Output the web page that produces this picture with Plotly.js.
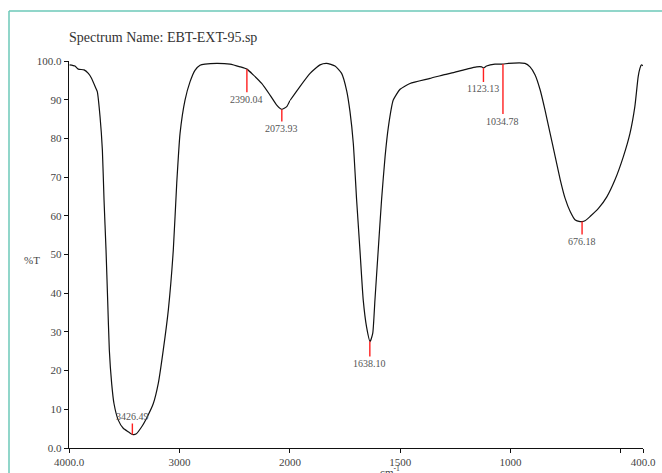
<!DOCTYPE html>
<html>
<head>
<meta charset="utf-8">
<script src="https://cdn.plot.ly/plotly-3.0.1.min.js"></script>
<style>html,body{margin:0;padding:0;background:#fff}#chart{width:662px;height:473px}</style>
</head>
<body>
<div id="chart"></div>
<script>
// Spectrum data (wavenumber cm-1, %T)
const wavenumber = [3995,3946,3916,3864,3825,3795,3756,3744,3719,3698,3683,3665,3650,3635,3614,3593,3554,3509,3463,3426,3394,3342,3291,3237,3192,3147,3101,3056,3025,2995,2950,2905,2860,2814,2769,2663,2543,2452,2390,2332,2256,2181,2120,2074,2030,2000,1955,1909,1864,1834,1796,1766,1743,1728,1713,1698,1683,1668,1653,1637,1625,1615,1600,1585,1569,1554,1532,1501,1456,1365,1300,1259,1199,1154,1131,1123,1109,1071,1035,1010,935,912,889,866,844,821,798,775,753,730,707,685,676,663,640,602,564,527,489,459,437,422,414,407,400];
const transmittance = [99.0,98.7,97.9,97.7,96.8,95.5,92.9,92.1,85.6,77.0,64.1,51.2,38.2,25.3,16.7,11.5,7.2,5.1,4.2,3.5,3.6,5.5,8.1,11.5,16.7,25.3,35.7,51.2,68.4,81.3,89.9,94.6,97.6,98.9,99.2,99.4,99.2,98.5,97.9,96.4,94.2,91.2,88.6,87.5,88.2,89.8,93.4,96.8,99.0,99.4,98.7,96.8,92.3,86.9,78.7,64.1,51.2,38.2,31.3,27.5,29.6,38.2,51.2,64.1,75.3,83.0,89.9,92.7,94.2,95.5,96.5,97.0,97.9,98.5,98.5,98.2,98.7,99.2,99.2,99.4,99.4,98.5,96.4,92.5,87.3,81.3,75.3,69.3,64.5,61.1,58.9,58.5,58.5,58.7,59.8,61.9,64.9,69.3,75.3,81.3,88.2,95.9,98.1,99.0,98.8];

// Peak picks
const peakWn = [3426.49, 2390.04, 2073.93, 1638.10, 1123.13, 1034.78, 676.18];
const peakT = [3.5, 97.9, 87.5, 27.5, 98.2, 99.2, 58.5];
const peakLabels = ["3426.49", "2390.04", "2073.93", "1638.10", "1123.13", "1034.78", "676.18"];

// Tick labels
const yTickVals = [0,10,20,30,40,50,60,70,80,90,100];
const yTickText = ["0.0","10","20","30","40","50","60","70","80","90","100.0"];
const xHighTickVals = [4000, 3000];
const xHighTickText = ["4000.0", "3000"];
const xLowTickVals = [2000, 1500, 1000, 400];
const xLowTickText = ["2000", "1500", "1000", "400.0"];
const xMinorTickVals = [500];

// styles (label offsets in px)
const labelOffsets = [-18, 30, 19, 22, 21, 57, 20];

const hiX = [], hiY = [], loX = [], loY = [];
wavenumber.forEach((w, i) => {
  if (w >= 2000) { hiX.push(w); hiY.push(transmittance[i]); }
  if (w <= 2000) { loX.push(w); loY.push(transmittance[i]); }
});

const lineStyle = {color: '#111', width: 1.2, shape: 'spline', smoothing: 0.5};
const traces = [
  {x: hiX, y: hiY, xaxis: 'x', yaxis: 'y', mode: 'lines', line: lineStyle, hoverinfo: 'skip'},
  {x: loX, y: loY, xaxis: 'x2', yaxis: 'y', mode: 'lines', line: lineStyle, hoverinfo: 'skip'}
];

const serif = 'Liberation Serif, Times New Roman, serif';
const tickFont = {family: serif, size: 11, color: '#444'};
const split = 0.385;

const annotations = peakWn.map((w, i) => ({
  x: w, y: peakT[i], xref: w >= 2000 ? 'x' : 'x2', yref: 'y',
  text: peakLabels[i], showarrow: true, arrowhead: 0, arrowwidth: 1.4,
  arrowcolor: '#ff2020', ax: 0, ay: labelOffsets[i], standoff: 0,
  font: {family: serif, size: 10, color: '#555'}, borderpad: 1
}));
annotations.push({
  text: '%T', xref: 'paper', yref: 'paper', x: -0.064, y: 0.486,
  showarrow: false, xanchor: 'center', yanchor: 'middle',
  font: {family: serif, size: 11, color: '#444'}
});
annotations.push({
  text: 'cm<sup>-1</sup>', xref: 'paper', yref: 'paper', x: 0.56, y: -0.036,
  showarrow: false, xanchor: 'center', yanchor: 'top',
  font: {family: serif, size: 11, color: '#444'}
});

const axisCommon = {
  showline: true, linecolor: '#111', linewidth: 1.2, ticks: 'outside', ticklen: 4,
  tickcolor: '#111', tickwidth: 1, showgrid: false, zeroline: false,
  tickfont: tickFont, tickmode: 'array', anchor: 'y', fixedrange: true
};

const layout = {
  width: 662, height: 473,
  margin: {l: 69, r: 19, t: 61, b: 25},
  paper_bgcolor: '#fff', plot_bgcolor: '#fff',
  showlegend: false,
  title: {text: 'Spectrum Name: EBT-EXT-95.sp', x: 69/662, xref: 'container', xanchor: 'left',
          y: 1 - 37/473, yref: 'container', yanchor: 'middle',
          font: {family: serif, size: 14, color: '#333'}},
  xaxis: Object.assign({}, axisCommon, {domain: [0, split], range: [4000, 2000],
          tickvals: xHighTickVals, ticktext: xHighTickText}),
  xaxis2: Object.assign({}, axisCommon, {domain: [split, 1], range: [2000, 400],
          tickvals: xLowTickVals, ticktext: xLowTickText,
          minor: {tickmode: 'array', tickvals: xMinorTickVals, ticks: 'outside', ticklen: 4, tickcolor: '#111', showgrid: false}}),
  yaxis: {showline: true, linecolor: '#111', linewidth: 1.2, ticks: 'outside', ticklen: 4,
          tickcolor: '#111', showgrid: false, zeroline: false, range: [0, 100],
          tickmode: 'array', tickvals: yTickVals, ticktext: yTickText, tickfont: tickFont,
          anchor: 'x', fixedrange: true},
  annotations: annotations,
  shapes: [
    {type: 'line', xref: 'paper', yref: 'paper', x0: -60/574, x1: -60/574, y0: 437/387, y1: -60/387,
     line: {color: '#6cc9b8', width: 1.5}},
    {type: 'line', xref: 'paper', yref: 'paper', x0: -60/574, x1: 620/574, y0: 437/387, y1: 437/387,
     line: {color: '#6cc9b8', width: 1.5}}
  ]
};

Plotly.newPlot('chart', traces, layout, {displayModeBar: false, staticPlot: true});
</script>
</body>
</html>
